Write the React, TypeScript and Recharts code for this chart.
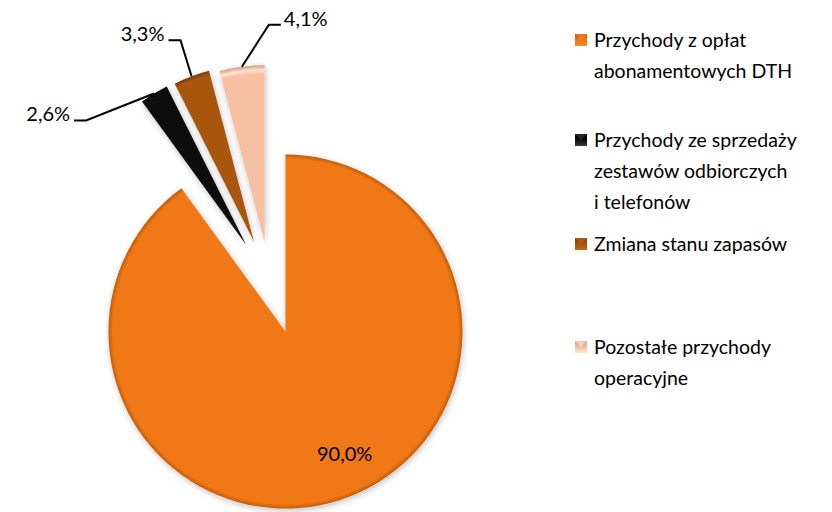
import React from 'react';
import { PieChart, Pie, Cell, Legend } from 'recharts';

// Revenue structure - share of each item in total revenue
const categories = [
  'Przychody z opłat abonamentowych DTH',
  'Przychody ze sprzedaży zestawów odbiorczych i telefonów',
  'Zmiana stanu zapasów',
  'Pozostałe przychody operacyjne',
];
const shares = [90.0, 2.6, 3.3, 4.1];
const valueLabels = ['90,0%', '2,6%', '3,3%', '4,1%'];
const legendLines = [
  ['Przychody z opłat', 'abonamentowych DTH'],
  ['Przychody ze sprzedaży', 'zestawów odbiorczych', 'i telefonów'],
  ['Zmiana stanu zapasów'],
  ['Pozostałe przychody', 'operacyjne'],
];

// look & layout
const colors = [
  { light: '#f58a2a', base: '#f07814', dark: '#c25c08' },
  { light: '#3a3a3a', base: '#0d0d0d', dark: '#000000' },
  { light: '#c0661c', base: '#a8540f', dark: '#7a3a06' },
  { light: '#fde3d3', base: '#f6c0a2', dark: '#d39a7a' },
];
const explode = [50, 46, 45, 42];
const legendTops = [8, 108, 212, 315];
const FONT = 'Lato, "Open Sans", sans-serif';
const CX = 270;
const CY = 284;
const R = 177;

const data = categories.map((name, i) => ({ name, value: shares[i] }));
const total = shares.reduce((a, b) => a + b, 0);

// mid angle (recharts degrees, counter-clockwise from 3 o'clock) for each slice
const midAngles = shares.map((v, i) => {
  const before = shares.slice(0, i).reduce((a, b) => a + b, 0);
  return 90 - ((before + v / 2) / total) * 360;
});
const rad = (d: number) => (d * Math.PI) / 180;
const centers = midAngles.map((a, i) => ({
  x: CX + explode[i] * Math.cos(rad(a)),
  y: CY - explode[i] * Math.sin(rad(a)),
}));

// leader line elbows for the small slices (relative to the slice edge point)
const leader: Record<number, { dx: number; dy: number; run: number }> = {
  1: { dx: -68, dy: 27, run: -12 },
  2: { dx: -11, dy: -36, run: -12 },
  3: { dx: 27, dy: -42, run: 12 },
};

const makeLabel = (slice: number) => (props: any) => {
  if (props.index !== slice) return null;
  const { cx, cy, midAngle, outerRadius } = props;
  if (slice === 0) {
    const r = outerRadius * 0.68;
    const x = cx + r * Math.cos(rad(-midAngle)) + 22;
    const y = cy + r * Math.sin(rad(-midAngle)) + 7;
    return (
      <text x={x} y={y} textAnchor="middle" dominantBaseline="central" fill="#000" fontSize={20} fontFamily={FONT}>
        {valueLabels[slice]}
      </text>
    );
  }
  const l = leader[slice];
  const x0 = cx + outerRadius * Math.cos(rad(-midAngle));
  const y0 = cy + outerRadius * Math.sin(rad(-midAngle));
  const x1 = x0 + l.dx;
  const y1 = y0 + l.dy;
  const x2 = x1 + l.run;
  const right = l.run > 0;
  return (
    <g>
      <polyline points={`${x0},${y0} ${x1},${y1} ${x2},${y1}`} fill="none" stroke="#000" strokeWidth={2} />
      <text x={right ? x2 + 3 : x2 - 4} y={y1 + 1} textAnchor={right ? 'start' : 'end'} fill="#000" fontSize={20} fontFamily={FONT}>
        {valueLabels[slice]}
      </text>
    </g>
  );
};

const LegendMarker = ({ i }: { i: number }) => (
  <svg width={12} height={12} style={{ position: 'absolute', left: 0, top: 10 }}>
    <defs>
      <linearGradient id={`lg${i}`} x1="0" y1="0" x2="0" y2="1">
        <stop offset="0" stopColor={colors[i].dark} />
        <stop offset="0.5" stopColor={colors[i].base} />
        <stop offset="1" stopColor={colors[i].light} />
      </linearGradient>
    </defs>
    <rect x={0} y={0} width={12} height={12} fill={`url(#lg${i})`} />
    <polygon points="0,0 12,0 6,6" fill={colors[i].light} opacity={0.6} />
  </svg>
);

const CustomLegend = () => (
  <div style={{ position: 'relative', width: 260, height: 400, fontFamily: FONT, fontSize: 19.5, color: '#000' }}>
    {legendLines.map((lines, i) => (
      <div key={i} style={{ position: 'absolute', left: 0, top: legendTops[i], paddingLeft: 19, lineHeight: '31px' }}>
        <LegendMarker i={i} />
        {lines.map((t) => (
          <div key={t} style={{ whiteSpace: 'nowrap' }}>{t}</div>
        ))}
      </div>
    ))}
  </div>
);

export default function App() {
  return (
    <div style={{ position: 'absolute', left: 0, top: 0, width: 832, height: 512, background: '#fff' }}>
      <PieChart width={832} height={512} margin={{ top: 0, right: 0, bottom: 0, left: 0 }}>
        <defs>
          {colors.map((c, i) => (
            <radialGradient key={i} id={`pg${i}`} gradientUnits="userSpaceOnUse" cx={centers[i].x} cy={centers[i].y} r={R}>
              <stop offset="0" stopColor={c.base} />
              <stop offset="0.95" stopColor={c.base} />
              <stop offset="0.975" stopColor={i === 3 ? c.light : c.base} />
              <stop offset="1" stopColor={c.dark} />
            </radialGradient>
          ))}
          <filter id="shadow" x="-20%" y="-20%" width="140%" height="140%">
            <feDropShadow dx="1" dy="2" stdDeviation="3" floodColor="#000" floodOpacity="0.25" />
          </filter>
        </defs>
        {categories.map((_, s) => (
          <Pie
            key={s}
            data={data}
            dataKey="value"
            nameKey="name"
            cx={centers[s].x}
            cy={centers[s].y}
            outerRadius={R}
            startAngle={90}
            endAngle={-270}
            stroke="none"
            isAnimationActive={false}
            legendType="none"
            label={makeLabel(s)}
            labelLine={false}
            style={{ filter: 'url(#shadow)' }}
          >
            {data.map((d, j) => (
              <Cell key={d.name} fill={j === s ? `url(#pg${s})` : 'transparent'} />
            ))}
          </Pie>
        ))}
        <Legend
          layout="vertical"
          align="right"
          verticalAlign="top"
          content={<CustomLegend />}
          wrapperStyle={{ left: 575, top: 16, width: 260 }}
        />
      </PieChart>
    </div>
  );
}
